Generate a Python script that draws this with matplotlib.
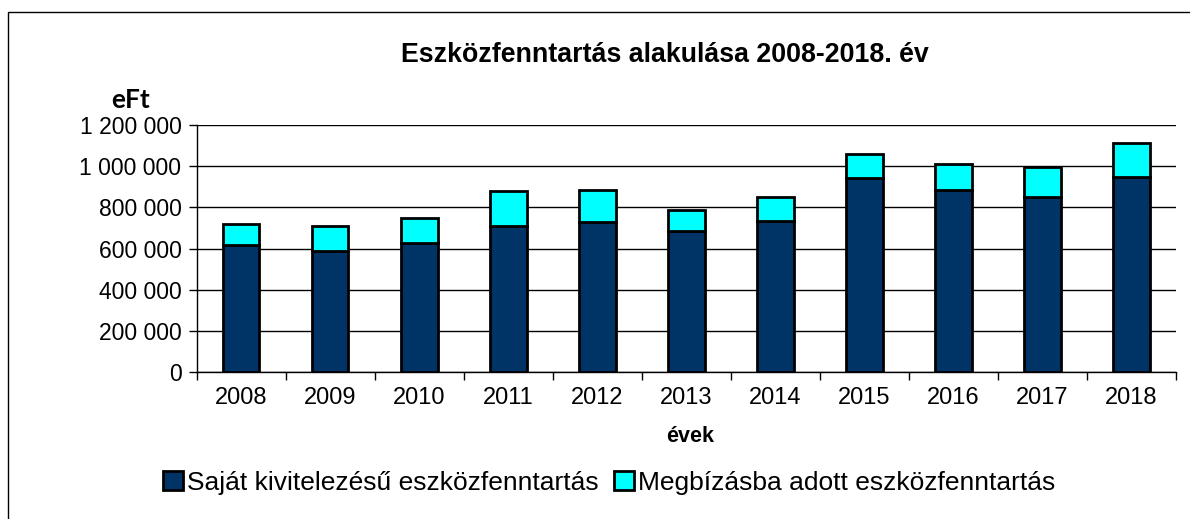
import matplotlib
matplotlib.use("Agg")
import matplotlib.pyplot as plt
from matplotlib.patches import Rectangle
from matplotlib.ticker import FuncFormatter, MultipleLocator
import numpy as np

years = ["2008", "2009", "2010", "2011", "2012", "2013",
         "2014", "2015", "2016", "2017", "2018"]
sajat = [618000, 589000, 628000, 707000, 728000, 686000,
         735000, 943000, 884000, 850000, 947000]
megbizas = [101000, 118000, 120000, 174000, 156000, 102000,
            115000, 116000, 125000, 146000, 166000]

plt.rcParams['font.family'] = ['Liberation Sans', 'DejaVu Sans']

W, H = 1190, 519
fig = plt.figure(figsize=(W / 100, H / 100), dpi=100)

# outer chart frame (only top/left edges visible in the reference)
fig.patches.append(Rectangle((8 / W, -0.1), 1.2, 1 - 12 / H + 0.1,
                             transform=fig.transFigure, fill=False,
                             edgecolor='black', linewidth=1))

x0, x1, y0, y1 = 196.7, 1176, 125, 372
ax = fig.add_axes([x0 / W, 1 - y1 / H, (x1 - x0) / W, (y1 - y0) / H])

x = np.arange(len(years))
ax.bar(x, sajat, width=0.41, color='#003366', edgecolor='black',
       linewidth=2, zorder=3, label='Saját kivitelezésű eszközfenntartás')
ax.bar(x, megbizas, width=0.41, bottom=sajat, color='#00FFFF',
       edgecolor='black', linewidth=2, zorder=3,
       label='Megbízásba adott eszközfenntartás')

ax.set_xlim(-0.5, len(years) - 0.5)
ax.set_ylim(0, 1200000)
ax.yaxis.set_major_locator(MultipleLocator(200000))
ax.yaxis.set_major_formatter(FuncFormatter(lambda v, p: f"{int(v):,}".replace(",", " ")))
ax.set_xticks(x)
ax.set_xticklabels(years)
ax.set_xticks(np.arange(len(years) + 1) - 0.5, minor=True)
ax.tick_params(axis='x', which='major', length=0, pad=11, labelsize=17)
ax.tick_params(axis='x', which='minor', length=6, width=1)
ax.tick_params(axis='y', length=6, width=1, labelsize=16.5, pad=5)
ax.grid(axis='y', color='black', linewidth=1, zorder=0)
for s in ['top', 'right']:
    ax.spines[s].set_visible(False)
ax.spines['left'].set_linewidth(1)
ax.spines['bottom'].set_linewidth(1)

fig.text(665 / W, 1 - 55 / H, "Eszközfenntartás alakulása 2008-2018. év",
         ha='center', va='center', fontsize=19.3, fontweight='bold')
fig.text(131 / W, 1 - 100 / H, "eFt", ha='center', va='center',
         fontsize=19, fontweight='bold', family=['Lato', 'DejaVu Sans'])
fig.text(690 / W, 1 - 437 / H, "évek", ha='center', va='center',
         fontsize=15.5, fontweight='bold')

fig.legend(loc='center', bbox_to_anchor=(609 / W, 1 - 483 / H), ncol=2,
           frameon=False, fontsize=19, handlelength=0.75, handleheight=0.75,
           handletextpad=0.15, columnspacing=0.6,
           borderaxespad=0, borderpad=0)

fig.savefig("out.png", dpi=100)
